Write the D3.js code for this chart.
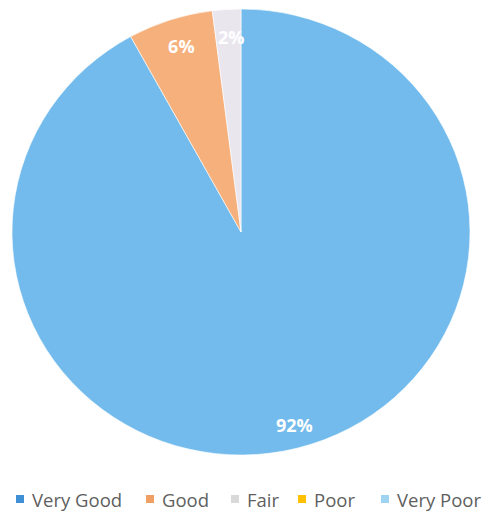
<!DOCTYPE html>
<html>
<head>
<meta charset="utf-8">
<script src="https://cdn.jsdelivr.net/npm/d3@7"></script>
<style>
  html, body { margin: 0; padding: 0; background: #fff; }
  svg { display: block; }
</style>
</head>
<body>
<svg id="chart" width="483" height="515"></svg>
<script>
const categories = ["Very Good", "Good", "Fair", "Poor", "Very Poor"];
const values = [92, 6, 2, 0, 0];
const labels = ["92%", "6%", "2%", "", ""];
const sliceColors = ["#72bbec", "#f6b07c", "#e9e6ee", "#ffc72c", "#a9d8f4"];
const legendColors = ["#3f8fd6", "#f0a065", "#d9d9d9", "#ffc000", "#9fd3f2"];

const svg = d3.select("#chart");
const cx = 241, cy = 232, rx = 229, ry = 223;
const data = categories.map((c, i) => ({ cat: c, value: values[i], label: labels[i], i }));

const pie = d3.pie().sort(null).value(d => d.value).startAngle(0).endAngle(2 * Math.PI);
const arcs = pie(data);
const arc = d3.arc().innerRadius(0).outerRadius(rx);

const g = svg.append("g").attr("transform", `translate(${cx},${cy}) scale(1,${ry / rx})`);
g.selectAll("path").data(arcs.filter(a => a.data.value > 0)).join("path")
  .attr("d", arc)
  .attr("fill", d => sliceColors[d.data.i])
  .attr("stroke", "#ffffff")
  .attr("stroke-width", 0.6);

const lr = 0.885;
svg.append("g").selectAll("text").data(arcs.filter(a => a.data.value > 0)).join("text")
  .attr("x", d => cx + 3 + Math.sin((d.startAngle + d.endAngle) / 2) * rx * lr)
  .attr("y", d => cy + 2 - Math.cos((d.startAngle + d.endAngle) / 2) * ry * lr)
  .attr("text-anchor", "middle")
  .attr("dominant-baseline", "central")
  .attr("font-family", "'Open Sans', 'Liberation Sans', sans-serif")
  .attr("font-weight", "bold")
  .attr("font-size", 18)
  .attr("fill", "#ffffff")
  .text(d => d.data.label);

// legend
const legendX = [16, 146, 231, 298, 381];
const legend = svg.append("g").attr("transform", "translate(0,499)");
const items = legend.selectAll("g").data(data).join("g")
  .attr("transform", (d, i) => `translate(${legendX[i]},0)`);
items.append("rect")
  .attr("x", 0).attr("y", -4).attr("width", 8).attr("height", 8)
  .attr("fill", d => legendColors[d.i]);
items.append("text")
  .attr("x", 16).attr("y", 0)
  .attr("dominant-baseline", "central")
  .attr("font-family", "'Open Sans', sans-serif")
  .attr("font-size", 18.5)
  .attr("fill", "#5f5f5f")
  .text(d => d.cat);
</script>
</body>
</html>
